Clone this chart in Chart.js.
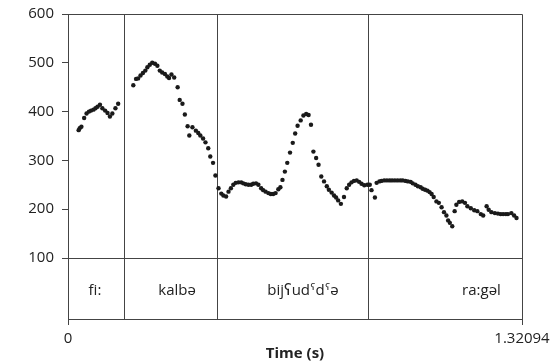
<!DOCTYPE html>
<html>
<head>
<meta charset="utf-8">
<script src="https://cdn.jsdelivr.net/npm/chart.js@4"></script>
<style>
  html, body { margin: 0; padding: 0; background: #fff; }
  #wrap { width: 558px; height: 363px; }
</style>
</head>
<body>
<div id="wrap"><canvas id="pitchChart"></canvas></div>
<script>
// F0 track, one pair of arrays per word (time in s, pitch in Hz)
const fiTime = [0.031, 0.034, 0.039, 0.047, 0.054, 0.061, 0.067, 0.074, 0.080, 0.086, 0.093, 0.100, 0.108, 0.115, 0.122, 0.129, 0.138, 0.146];
const fiHz   = [362, 366, 369, 387, 396, 400, 402, 404, 407, 410, 414, 407, 402, 397, 390, 396, 407, 416];

const kalbaTime = [0.190, 0.198, 0.204, 0.211, 0.218, 0.225, 0.231, 0.238, 0.245, 0.253, 0.260, 0.267, 0.274, 0.282, 0.289, 0.294, 0.301, 0.309, 0.319, 0.325, 0.333, 0.340, 0.348, 0.353, 0.362, 0.372, 0.379, 0.385, 0.393, 0.400, 0.408, 0.414, 0.422, 0.429];
const kalbaHz   = [454, 467, 468, 474, 479, 484, 491, 496, 500, 498, 494, 484, 480, 477, 472, 469, 476, 470, 450, 424, 416, 394, 370, 351, 368, 361, 356, 351, 345, 337, 325, 308, 295, 269];

const bijTime = [0.438, 0.446, 0.452, 0.460, 0.467, 0.474, 0.481, 0.488, 0.496, 0.504, 0.510, 0.517, 0.525, 0.533, 0.539, 0.547, 0.554, 0.562, 0.568, 0.575, 0.583, 0.590, 0.597, 0.604, 0.612, 0.618, 0.624, 0.631, 0.638, 0.646, 0.654, 0.661, 0.668, 0.677, 0.685, 0.693, 0.700, 0.707, 0.714, 0.722, 0.729, 0.737, 0.745, 0.753, 0.759, 0.767, 0.774, 0.780, 0.786, 0.794, 0.803, 0.811, 0.818, 0.825, 0.832, 0.840, 0.847, 0.854, 0.862, 0.871];
const bijHz   = [243, 232, 228, 226, 236, 243, 250, 254, 255, 255, 253, 251, 250, 250, 252, 253, 250, 243, 239, 236, 233, 231, 231, 233, 241, 245, 260, 277, 295, 316, 336, 355, 371, 382, 392, 395, 393, 373, 318, 305, 291, 267, 257, 247, 240, 234, 228, 224, 218, 211, 225, 243, 250, 255, 258, 259, 256, 252, 249, 250];

const ragelTime = [0.878, 0.883, 0.893, 0.898, 0.906, 0.912, 0.920, 0.928, 0.936, 0.943, 0.951, 0.959, 0.967, 0.974, 0.982, 0.989, 0.997, 1.003, 1.011, 1.018, 1.026, 1.032, 1.039, 1.046, 1.052, 1.058, 1.064, 1.072, 1.079, 1.087, 1.094, 1.101, 1.106, 1.111, 1.118, 1.125, 1.130, 1.138, 1.147, 1.155, 1.162, 1.172, 1.182, 1.191, 1.201, 1.208, 1.218, 1.224, 1.232, 1.242, 1.251, 1.259, 1.266, 1.274, 1.280, 1.290, 1.298, 1.305];
const ragelHz   = [250, 239, 224, 254, 257, 258, 259, 259, 259, 259, 259, 259, 259, 259, 258, 257, 256, 253, 250, 247, 245, 242, 240, 238, 235, 231, 225, 216, 213, 204, 194, 187, 177, 172, 165, 196, 209, 215, 216, 213, 206, 202, 198, 196, 190, 187, 206, 199, 194, 192, 191, 190, 190, 190, 190, 192, 187, 182];

// word boundaries and transcription tier
const boundaries = [0.1616, 0.4347, 0.8717];
const words = ['fi:', 'kalbə', 'bijʕudˤdˤə', 'ra:gəl'];
const wordTimes = [0.0785, 0.3176, 0.6837, 1.2030];
const tierLine = 100;
const wordBaseline = 25;

const xTicks = [0, 1.32094];
const yTicks = [100, 200, 300, 400, 500, 600];

const FONT = "'Open Sans', 'DejaVu Sans', sans-serif";
const LINE = '#444';

const toPoints = (ts, hz) => ts.map((t, i) => ({ x: t, y: hz[i] }));
const points = [].concat(
    toPoints(fiTime, fiHz),
    toPoints(kalbaTime, kalbaHz),
    toPoints(bijTime, bijHz),
    toPoints(ragelTime, ragelHz)
);

// frame, word boundaries and word labels
const tierPlugin = {
    id: 'tier',
    beforeDatasetsDraw(chart) {
        const { ctx, chartArea: a, scales: { x, y } } = chart;
        ctx.save();
        ctx.strokeStyle = LINE;
        ctx.lineWidth = 1;
        ctx.beginPath();
        ctx.moveTo(a.left, a.top + 0.5);
        ctx.lineTo(a.right + 0.5, a.top + 0.5);
        ctx.lineTo(a.right + 0.5, a.bottom);
        boundaries.forEach(b => {
            const px = Math.round(x.getPixelForValue(b)) + 0.5;
            ctx.moveTo(px, a.top);
            ctx.lineTo(px, a.bottom);
        });
        ctx.stroke();

        ctx.fillStyle = '#222';
        ctx.font = '15px ' + FONT;
        ctx.textAlign = 'center';
        ctx.textBaseline = 'alphabetic';
        const by = y.getPixelForValue(wordBaseline);
        words.forEach((w, i) => ctx.fillText(w, x.getPixelForValue(wordTimes[i]), by));
        ctx.restore();
    }
};

const ctx = document.getElementById('pitchChart').getContext('2d');
const pitchChart = new Chart(ctx, {
    type: 'scatter',
    data: {
        datasets: [{
            label: 'F0',
            data: points,
            backgroundColor: '#1a1a1a',
            borderWidth: 0,
            pointRadius: 2.2,
            pointHoverRadius: 2.2
        }]
    },
    options: {
        responsive: true,
        maintainAspectRatio: false,
        animation: false,
        layout: { padding: { left: 0, top: 14, right: 36, bottom: 0 } },
        plugins: {
            legend: { display: false },
            tooltip: { enabled: false }
        },
        scales: {
            x: {
                type: 'linear',
                min: 0,
                max: 1.32094,
                afterBuildTicks: s => { s.ticks = xTicks.map(v => ({ value: v })); },
                afterFit: s => { s.height = 44; s.paddingLeft = 0; s.paddingRight = 0; },
                ticks: {
                    autoSkip: false,
                    maxRotation: 0,
                    padding: 5,
                    color: '#222',
                    font: { family: FONT, size: 15 },
                    callback: v => String(v)
                },
                grid: { drawOnChartArea: false, tickLength: 6, tickColor: LINE },
                border: { display: true, color: LINE, width: 1 },
                title: {
                    display: true,
                    text: 'Time (s)',
                    color: '#222',
                    font: { family: FONT, size: 15, weight: 'bold' },
                    padding: { top: 0, bottom: 0 }
                }
            },
            y: {
                min: -25,
                max: 600,
                afterBuildTicks: s => { s.ticks = yTicks.map(v => ({ value: v })); },
                afterFit: s => { s.width = 68; s.paddingTop = 0; s.paddingBottom = 0; },
                ticks: {
                    padding: 8,
                    color: '#222',
                    font: { family: FONT, size: 15 }
                },
                grid: {
                    tickLength: 6,
                    tickColor: LINE,
                    color: c => (c.tick && c.tick.value === tierLine) ? LINE : 'rgba(0,0,0,0)'
                },
                border: { display: true, color: LINE, width: 1 }
            }
        }
    },
    plugins: [tierPlugin]
});
</script>
</body>
</html>
